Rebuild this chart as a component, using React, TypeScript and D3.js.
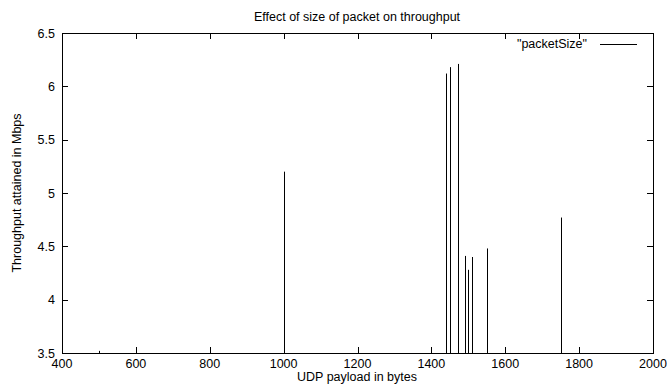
import React from "react";
import * as d3 from "d3";

const packetSizes = [500, 1000, 1440, 1450, 1472, 1490, 1500, 1510, 1550, 1750];
const throughputs = [3.52, 5.2, 6.12, 6.18, 6.21, 4.41, 4.28, 4.4, 4.48, 4.77];
const xTicks = [400, 600, 800, 1000, 1200, 1400, 1600, 1800, 2000];
const yTicks = [3.5, 4, 4.5, 5, 5.5, 6, 6.5];

const W = 667, H = 386;
const L = 62, R = 653, T = 33, B = 353;
const FONT = "'Liberation Sans', Arial, Helvetica, sans-serif";

export default function App() {
  const x = d3.scaleLinear().domain([400, 2000]).range([L, R]);
  const y = d3.scaleLinear().domain([3.5, 6.5]).range([B, T]);
  const px = (v: number) => Math.round(v) + 0.5;
  const tl = 6;
  return (
    <svg width={W} height={H} style={{ position: "absolute", left: 0, top: 0, background: "#fff" }}>
      <g fontFamily={FONT} fontSize={12.5} fill="#000">
        <text x={357} y={21} textAnchor="middle">Effect of size of packet on throughput</text>
        <text x={357} y={381} textAnchor="middle">UDP payload in bytes</text>
        <text transform={`translate(21,193) rotate(-90)`} textAnchor="middle">Throughput attained in Mbps</text>
        {yTicks.map((t) => (
          <g key={"y" + t}>
            <line x1={L} x2={L + tl} y1={px(y(t))} y2={px(y(t))} stroke="#000" />
            <line x1={R - tl} x2={R} y1={px(y(t))} y2={px(y(t))} stroke="#000" />
            <text x={55} y={y(t) + 4.5} textAnchor="end">{t}</text>
          </g>
        ))}
        {xTicks.map((t) => (
          <g key={"x" + t}>
            <line x1={px(x(t))} x2={px(x(t))} y1={B} y2={B - tl} stroke="#000" />
            <line x1={px(x(t))} x2={px(x(t))} y1={T} y2={T + tl} stroke="#000" />
            <text x={x(t)} y={368} textAnchor="middle">{t}</text>
          </g>
        ))}
        {packetSizes.map((s, i) => (
          <line key={"i" + i} x1={px(x(s))} x2={px(x(s))} y1={B} y2={y(throughputs[i])} stroke="#000" />
        ))}
        <text x={587} y={48} textAnchor="end">"packetSize"</text>
        <line x1={600} x2={637} y1={44.5} y2={44.5} stroke="#000" />
        <rect x={px(L)} y={px(T)} width={Math.round(R - L)} height={Math.round(B - T)} fill="none" stroke="#000" />
      </g>
    </svg>
  );
}
